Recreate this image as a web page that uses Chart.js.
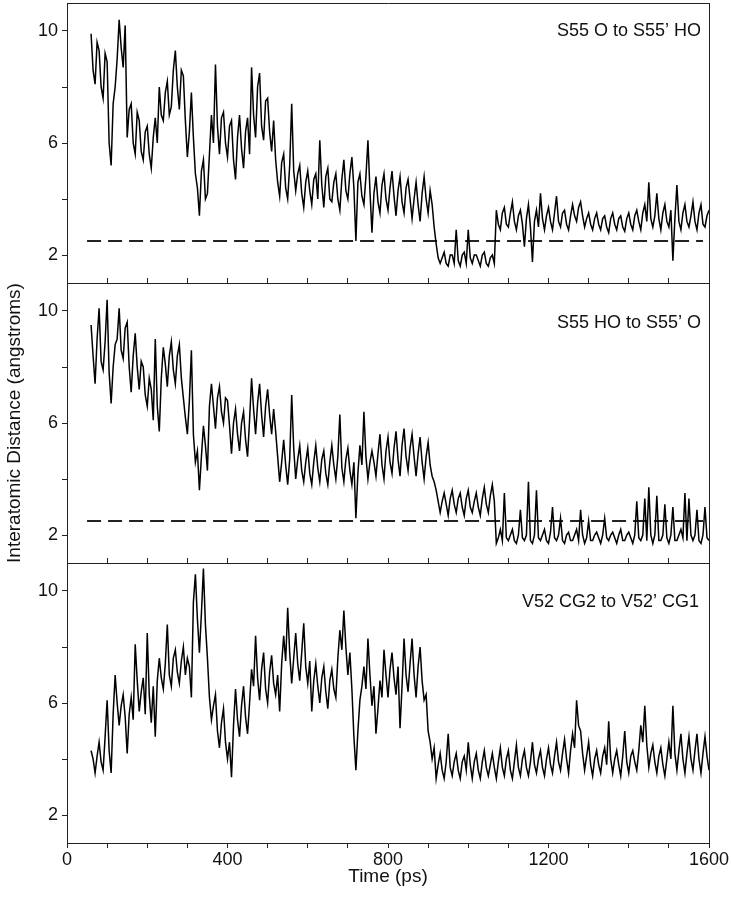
<!DOCTYPE html>
<html>
<head>
<meta charset="utf-8">
<title>Interatomic distances</title>
<script src="https://cdn.jsdelivr.net/npm/chart.js@4.4.1/dist/chart.umd.min.js"></script>
<style>
  body { margin: 0; background: #fff; }
  #wrap { position: relative; width: 731px; height: 900px; }
  #wrap canvas { position: absolute; left: 0; }
</style>
</head>
<body>
<div id="wrap">
  <canvas id="panel1" width="731" height="285" style="top:0px"></canvas>
  <canvas id="panel2" width="731" height="288" style="top:277px"></canvas>
  <canvas id="panel3" width="731" height="333" style="top:557px"></canvas>
</div>
<script>
// time axis (ps), one reading every 5 ps
var timePs = [
  60, 65, 70, 75, 80, 85, 90, 95, 100, 105, 110, 115, 120, 125, 130, 135, 140, 145, 150, 155,
  160, 165, 170, 175, 180, 185, 190, 195, 200, 205, 210, 215, 220, 225, 230, 235, 240, 245, 250, 255,
  260, 265, 270, 275, 280, 285, 290, 295, 300, 305, 310, 315, 320, 325, 330, 335, 340, 345, 350, 355,
  360, 365, 370, 375, 380, 385, 390, 395, 400, 405, 410, 415, 420, 425, 430, 435, 440, 445, 450, 455,
  460, 465, 470, 475, 480, 485, 490, 495, 500, 505, 510, 515, 520, 525, 530, 535, 540, 545, 550, 555,
  560, 565, 570, 575, 580, 585, 590, 595, 600, 605, 610, 615, 620, 625, 630, 635, 640, 645, 650, 655,
  660, 665, 670, 675, 680, 685, 690, 695, 700, 705, 710, 715, 720, 725, 730, 735, 740, 745, 750, 755,
  760, 765, 770, 775, 780, 785, 790, 795, 800, 805, 810, 815, 820, 825, 830, 835, 840, 845, 850, 855,
  860, 865, 870, 875, 880, 885, 890, 895, 900, 905, 910, 915, 920, 925, 930, 935, 940, 945, 950, 955,
  960, 965, 970, 975, 980, 985, 990, 995, 1000, 1005, 1010, 1015, 1020, 1025, 1030, 1035, 1040, 1045, 1050, 1055,
  1060, 1065, 1070, 1075, 1080, 1085, 1090, 1095, 1100, 1105, 1110, 1115, 1120, 1125, 1130, 1135, 1140, 1145, 1150, 1155,
  1160, 1165, 1170, 1175, 1180, 1185, 1190, 1195, 1200, 1205, 1210, 1215, 1220, 1225, 1230, 1235, 1240, 1245, 1250, 1255,
  1260, 1265, 1270, 1275, 1280, 1285, 1290, 1295, 1300, 1305, 1310, 1315, 1320, 1325, 1330, 1335, 1340, 1345, 1350, 1355,
  1360, 1365, 1370, 1375, 1380, 1385, 1390, 1395, 1400, 1405, 1410, 1415, 1420, 1425, 1430, 1435, 1440, 1445, 1450, 1455,
  1460, 1465, 1470, 1475, 1480, 1485, 1490, 1495, 1500, 1505, 1510, 1515, 1520, 1525, 1530, 1535, 1540, 1545, 1550, 1555,
  1560, 1565, 1570, 1575, 1580, 1585, 1590, 1595, 1600
];

// S55 O to S55' HO (angstroms)
var s55OtoHO = [
  9.9, 8.6, 8.1, 9.6, 9.3, 8.0, 7.6, 9.2, 8.9, 6.0, 5.2, 7.4, 8.0, 9.0, 10.4, 9.4, 8.7, 10.2, 6.2, 7.2,
  7.4, 6.0, 5.6, 7.1, 6.8, 5.7, 5.4, 6.4, 6.6, 5.6, 5.1, 6.2, 6.9, 6.0, 8.0, 7.0, 6.8, 7.8, 8.2, 7.0,
  7.3, 8.6, 9.3, 8.0, 7.2, 8.6, 8.4, 6.8, 5.5, 6.4, 7.8, 6.2, 4.9, 4.4, 3.4, 5.0, 5.4, 4.0, 4.2, 5.6,
  7.0, 6.0, 8.8, 6.6, 5.6, 6.9, 7.1, 6.0, 5.5, 6.6, 6.8, 5.4, 4.7, 6.2, 7.0, 5.8, 5.1, 6.4, 6.9, 5.6,
  8.7, 7.0, 6.2, 8.0, 8.5, 6.6, 6.1, 7.5, 7.6, 6.4, 5.7, 6.8, 5.4, 4.6, 4.1, 5.3, 5.6, 4.4, 4.0, 5.2,
  7.4, 5.0, 4.3, 4.9, 5.2, 4.2, 3.7, 4.6, 5.0, 4.3, 3.8, 4.7, 4.9, 4.0, 6.1, 4.5, 3.7, 4.8, 5.1, 4.0,
  3.9, 4.6, 4.9, 4.0, 3.6, 4.7, 5.4, 4.3, 4.0, 4.9, 5.5, 4.4, 2.5, 4.6, 4.9, 4.1, 3.8, 4.8, 6.1, 4.3,
  2.8, 4.2, 4.8, 3.9, 3.5, 4.5, 4.9, 4.0, 3.6, 4.4, 5.0, 4.1, 3.4, 4.3, 4.8, 3.9, 3.5, 4.4, 4.7, 4.0,
  3.3, 4.0, 4.6, 3.8, 3.2, 4.2, 4.8, 4.0, 3.5, 4.3, 3.8, 3.0, 2.4, 1.9, 1.7, 1.9, 2.1, 1.7, 1.6, 2.0,
  2.0, 1.7, 2.9, 1.8, 1.6, 2.0, 2.1, 1.7, 2.9, 1.9, 1.7, 2.0, 2.0, 1.8, 1.6, 2.0, 2.1, 1.7, 1.6, 1.9,
  2.0, 1.7, 3.6, 3.1, 2.9, 3.5, 3.7, 3.1, 3.0, 3.5, 3.9, 3.2, 2.9, 3.4, 3.6, 3.1, 2.3, 3.3, 3.8, 3.0,
  1.75, 3.2, 3.6, 3.0, 4.2, 3.3, 2.9, 3.4, 3.7, 3.2, 2.9, 3.5, 4.1, 3.2, 3.0, 3.5, 3.6, 3.1, 2.9, 3.4,
  3.8, 3.4, 3.2, 3.7, 3.9, 3.4, 3.0, 3.3, 3.5, 3.1, 2.9, 3.3, 3.5, 3.1, 2.9, 3.3, 3.4, 3.0, 2.8, 3.3,
  3.5, 3.1, 2.9, 3.3, 3.4, 3.0, 2.85, 3.3, 3.5, 3.1, 2.9, 3.4, 3.6, 3.2, 2.9, 3.5, 3.8, 3.2, 4.6, 3.3,
  3.0, 3.4, 4.2, 3.3, 2.9, 3.5, 3.8, 3.2, 3.0, 3.6, 1.8, 3.3, 4.5, 3.2, 2.9, 3.5, 3.8, 3.2, 3.0, 3.4,
  3.9, 3.2, 2.9, 3.5, 3.8, 3.1, 3.0, 3.4, 3.6
];

// S55 HO to S55' O (angstroms)
var s55HOtoO = [
  9.5, 8.4, 7.4, 9.0, 10.1, 8.2, 7.9, 8.9, 10.4, 7.8, 6.7, 8.0, 8.8, 9.0, 10.1, 8.6, 8.3, 9.4, 9.6, 8.0,
  7.1, 8.4, 9.2, 8.0, 7.2, 8.2, 8.0, 7.0, 6.6, 7.6, 7.2, 6.1, 9.0, 6.6, 5.7, 7.6, 8.7, 8.1, 7.3, 8.4,
  8.9, 7.9, 7.4, 8.4, 8.8, 7.6, 6.9, 6.2, 5.6, 6.8, 8.6, 5.6, 4.6, 5.0, 3.6, 4.8, 5.9, 5.2, 4.3, 6.6,
  7.4, 6.6, 5.8, 6.9, 7.3, 6.4, 6.0, 6.9, 6.8, 5.9, 4.9, 6.0, 6.5, 5.6, 5.0, 6.0, 6.4, 5.4, 4.8, 6.1,
  7.6, 6.5, 5.6, 6.7, 7.4, 6.3, 5.5, 6.6, 7.2, 6.3, 5.6, 6.5, 5.7, 4.8, 3.9, 4.6, 5.4, 4.5, 3.8, 4.7,
  7.0, 5.1, 4.0, 4.7, 5.2, 4.3, 3.9, 4.6, 5.1, 4.2, 3.8, 4.6, 5.2, 4.4, 3.9, 4.7, 5.0, 4.2, 3.8, 4.6,
  5.2, 4.5, 4.0, 4.8, 6.3, 4.4, 3.9, 4.7, 5.1, 4.3, 3.8, 4.6, 2.6, 4.2, 5.2, 4.5, 6.4, 4.8, 4.0, 4.6,
  5.0, 4.6, 4.1, 4.9, 5.6, 4.5, 4.0, 5.0, 5.5, 4.6, 4.2, 5.1, 5.7, 4.7, 4.1, 5.2, 5.8, 4.8, 4.3, 5.1,
  5.6, 4.8, 4.1, 4.9, 5.5, 4.6, 4.0, 4.8, 5.3, 4.5, 4.1, 3.9, 3.6, 3.2, 2.8, 3.2, 3.5, 3.1, 2.7, 3.3,
  3.6, 3.1, 2.8, 3.3, 3.5, 3.0, 2.7, 3.3, 3.6, 3.0, 2.8, 3.2, 3.5, 3.0, 2.7, 3.3, 3.7, 3.1, 2.8, 3.4,
  3.8, 3.2, 1.7, 1.9, 2.2, 1.8, 3.5, 1.9, 1.8, 2.0, 2.2, 1.8, 1.7, 2.0, 2.9, 1.9, 1.8, 2.0, 3.9, 1.8,
  1.7, 2.0, 3.6, 1.9, 1.8, 2.0, 2.2, 1.8, 1.7, 2.1, 3.0, 1.9, 1.8, 2.0, 2.6, 1.8, 1.7, 2.0, 2.1, 1.8,
  1.8, 2.0, 2.2, 1.8, 2.9, 2.0, 1.7, 1.9, 2.5, 1.8, 1.8, 2.0, 2.1, 1.9, 1.7, 2.0, 2.6, 1.9, 1.8, 2.0,
  2.1, 1.9, 1.7, 2.0, 2.2, 1.8, 1.8, 2.0, 2.1, 1.9, 1.7, 2.0, 3.2, 1.9, 1.8, 2.0, 3.3, 1.8, 3.7, 2.0,
  1.7, 2.0, 3.4, 1.8, 1.8, 2.0, 3.1, 1.9, 1.7, 2.0, 3.0, 1.8, 1.8, 2.0, 2.2, 1.9, 3.5, 1.8, 3.3, 2.0,
  1.8, 2.0, 2.9, 1.8, 1.7, 2.0, 3.0, 1.9, 1.8
];

// V52 CG2 to V52' CG1 (angstroms)
var v52CG2toCG1 = [
  4.3, 4.0, 3.5, 4.1, 4.6, 3.9, 3.6, 4.8, 6.1, 4.3, 3.5, 5.6, 7.0, 6.0, 5.2, 5.9, 6.3, 5.5, 4.2, 5.6,
  6.2, 5.4, 8.1, 6.8, 5.7, 6.4, 6.9, 5.6, 8.5, 6.3, 5.3, 6.6, 4.8, 6.8, 7.6, 6.9, 6.5, 7.4, 8.8, 7.0,
  6.6, 7.6, 7.9, 7.1, 6.7, 7.5, 8.0, 7.0, 7.6, 7.3, 6.2, 9.6, 10.6, 9.0, 7.8, 9.2, 10.8, 8.8, 7.6, 6.2,
  5.4, 5.9, 6.3, 5.0, 4.4, 5.3, 5.8, 4.6, 4.0, 4.6, 3.35, 5.2, 6.5, 5.4, 4.8, 5.9, 6.6, 5.5, 4.9, 6.0,
  7.2, 6.6, 8.4, 6.9, 6.1, 7.2, 7.8, 6.5, 6.0, 7.1, 7.7, 6.7, 6.3, 7.0, 5.7, 7.4, 8.4, 7.5, 9.4, 7.8,
  6.7, 7.6, 8.5, 7.4, 6.8, 7.8, 8.85, 7.3, 6.7, 7.5, 5.7, 6.8, 7.4, 6.6, 6.0, 6.9, 7.3, 6.4, 5.8, 6.8,
  7.2, 6.5, 6.2, 7.6, 8.6, 7.9, 9.3, 8.0, 7.0, 7.8, 6.5, 4.8, 3.6, 5.0, 6.1, 6.6, 7.3, 6.5, 8.3, 7.0,
  5.9, 6.6, 4.9, 5.8, 6.8, 6.2, 7.9, 7.0, 6.2, 7.2, 7.8, 6.9, 6.3, 7.3, 5.1, 6.6, 8.3, 7.0, 6.4, 7.4,
  8.3, 7.0, 6.2, 7.3, 8.0, 6.8, 6.1, 6.3, 5.0, 4.6, 4.0, 4.4, 3.3, 3.8, 4.2, 3.6, 3.3, 3.9, 4.9, 3.7,
  3.4, 3.9, 4.2, 3.6, 3.3, 3.9, 4.1, 3.6, 4.6, 3.8, 3.3, 3.9, 4.2, 3.6, 3.3, 3.9, 4.3, 3.7, 3.4, 3.8,
  4.2, 3.7, 3.3, 3.9, 4.4, 3.7, 3.4, 4.0, 4.3, 3.6, 3.3, 3.9, 4.5, 3.7, 3.4, 4.0, 4.3, 3.7, 3.4, 3.9,
  4.6, 3.8, 3.5, 4.0, 4.3, 3.7, 3.4, 4.0, 4.4, 3.8, 3.5, 4.1, 4.6, 3.9, 3.6, 4.2, 4.7, 4.0, 3.5, 4.3,
  4.9, 4.4, 6.1, 5.2, 5.0, 4.2, 3.6, 4.1, 4.6, 3.8, 3.4, 4.0, 4.3, 3.8, 3.5, 4.1, 4.4, 3.8, 5.35, 4.0,
  3.5, 4.0, 4.3, 3.8, 3.4, 4.1, 5.0, 3.9, 3.5, 4.1, 4.3, 3.9, 3.6, 4.3, 5.2, 4.6, 5.9, 4.5, 3.7, 4.2,
  4.5, 3.9, 3.5, 4.1, 4.4, 3.8, 3.4, 4.0, 4.6, 4.0, 5.9, 4.2, 3.6, 4.3, 4.9, 4.0, 3.5, 4.2, 4.8, 4.0,
  3.6, 4.3, 4.9, 4.0, 3.5, 4.2, 4.8, 4.1, 3.6
];

var panelLabels = ['S55 O to S55\u2019 HO', 'S55 HO to S55\u2019 O', 'V52 CG2 to V52\u2019 CG1'];

// hydrogen bond cut-off drawn as a dashed line in the two upper panels
var cutoffDistance = 2.5;
var cutoffTimes = [50, 1585];

var xTickValues = [0, 100, 200, 300, 400, 500, 600, 700, 800, 900, 1000, 1100, 1200, 1300, 1400, 1500, 1600];
var xTickLabels = [0, 400, 800, 1200, 1600];
var yTickValues = [2, 4, 6, 8, 10];
var yTickLabels = [2, 6, 10];

var FONT = '"Liberation Sans", Arial, Helvetica, sans-serif';
var INK = '#111';
var FRAME = '#222';

// draws the panel caption in the upper right corner of the plot area
var panelLabelPlugin = {
    id: 'panelLabel',
    afterDatasetsDraw: function(chart, args, opts) {
        var ctx = chart.ctx;
        var area = chart.chartArea;
        ctx.save();
        ctx.font = '18px ' + FONT;
        ctx.fillStyle = INK;
        ctx.textAlign = 'right';
        ctx.textBaseline = 'middle';
        ctx.fillText(opts.text, area.right - opts.dx, area.top + opts.dy);
        ctx.restore();
    }
};

function setXTicks(scale) {
    scale.ticks = xTickValues.map(function(v) { return {value: v}; });
}

function setYTicks(scale) {
    scale.ticks = yTickValues.map(function(v) { return {value: v}; });
}

// fixed axis sizes so the three plot areas line up exactly
function fixSize(prop, size) {
    return function(s) {
        s[prop] = size;
        s.paddingLeft = 0;
        s.paddingRight = 0;
        s.paddingTop = 0;
        s.paddingBottom = 0;
    };
}

function makePanel(canvasId, values, label, cfg) {
    var datasets = [{
        data: timePs.map(function(t, i) { return {x: t, y: values[i]}; }),
        borderColor: '#000',
        borderWidth: 1.5,
        pointRadius: 0,
        fill: false,
        tension: 0,
    }];

    if (cfg.cutoff) {
        datasets.push({
            data: cutoffTimes.map(function(t) { return {x: t, y: cutoffDistance}; }),
            borderColor: FRAME,
            borderWidth: 2,
            borderDash: [14, 7],
            pointRadius: 0,
            fill: false,
        });
    }

    return new Chart(document.getElementById(canvasId), {
        type: 'line',
        data: {datasets: datasets},
        plugins: [panelLabelPlugin],
        options: {
            responsive: false,
            animation: false,
            events: [],
            layout: {padding: 0},
            plugins: {
                legend: {display: false},
                tooltip: {enabled: false},
                panelLabel: {text: label, dx: cfg.labelDx, dy: cfg.labelDy},
            },
            scales: {
                x: {
                    type: 'linear',
                    position: 'bottom',
                    min: 0,
                    max: 1600,
                    afterBuildTicks: setXTicks,
                    afterFit: fixSize('height', cfg.bottomH),
                    grid: {display: cfg.bottomAxis, drawOnChartArea: false, tickLength: 5, color: FRAME},
                    border: {display: true, color: FRAME, width: 1},
                    ticks: {
                        display: cfg.bottomAxis,
                        autoSkip: false,
                        maxRotation: 0,
                        padding: 1,
                        color: INK,
                        font: {family: FONT, size: 18},
                        callback: function(v) { return xTickLabels.indexOf(v) >= 0 ? String(v) : ''; },
                    },
                    title: {
                        display: cfg.bottomAxis,
                        text: 'Time (ps)',
                        color: INK,
                        font: {family: FONT, size: 19},
                        padding: {top: 0, bottom: 2},
                    },
                },
                xTop: {
                    type: 'linear',
                    position: 'top',
                    min: 0,
                    max: 1600,
                    afterBuildTicks: setXTicks,
                    afterFit: fixSize('height', cfg.topH),
                    grid: {display: cfg.topTicks, drawOnChartArea: false, tickLength: 5, color: FRAME},
                    border: {display: true, color: FRAME, width: 1},
                    ticks: {display: false},
                },
                y: {
                    type: 'linear',
                    position: 'left',
                    min: 1,
                    max: 11,
                    afterBuildTicks: setYTicks,
                    afterFit: fixSize('width', 67),
                    grid: {drawOnChartArea: false, tickLength: 5, color: FRAME},
                    border: {display: true, color: FRAME, width: 1},
                    ticks: {
                        padding: 4,
                        color: INK,
                        font: {family: FONT, size: 18},
                        callback: function(v) { return yTickLabels.indexOf(v) >= 0 ? String(v) : ''; },
                    },
                    title: {
                        display: cfg.yTitle,
                        text: 'Interatomic Distance (angstroms)',
                        color: INK,
                        font: {family: FONT, size: 19},
                        padding: {top: 3, bottom: 0},
                    },
                },
                yRight: {
                    type: 'linear',
                    position: 'right',
                    min: 1,
                    max: 11,
                    afterFit: fixSize('width', 22),
                    grid: {display: false},
                    border: {display: true, color: FRAME, width: 1},
                    ticks: {display: false},
                },
            },
        },
    });
}

makePanel('panel1', s55OtoHO, panelLabels[0],
    {cutoff: true, topTicks: false, bottomAxis: false, yTitle: false, topH: 3, bottomH: 2, labelDx: 8, labelDy: 28});
makePanel('panel2', s55HOtoO, panelLabels[1],
    {cutoff: true, topTicks: true, bottomAxis: false, yTitle: true, topH: 6, bottomH: 2, labelDx: 8, labelDy: 40});
makePanel('panel3', v52CG2toCG1, panelLabels[2],
    {cutoff: false, topTicks: true, bottomAxis: true, yTitle: false, topH: 6, bottomH: 47, labelDx: 10, labelDy: 39});
</script>
</body>
</html>
